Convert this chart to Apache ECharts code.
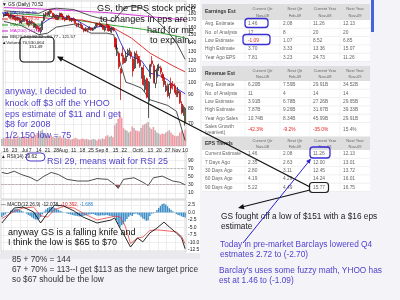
<!DOCTYPE html>
<html>
<head>
<meta charset="utf-8">
<script src="https://cdn.jsdelivr.net/npm/echarts@6/dist/echarts.min.js"></script>
<style>
html, body { margin: 0; padding: 0; background: #f3f3f8; }
#chart { width: 400px; height: 300px; }
</style>
</head>
<body>
<div id="chart"></div>
<script>
// trading days shown on the GS daily chart
const dates = ['6/13','6/16','6/17','6/18','6/19','6/20','6/23','6/24','6/25','6/26','6/27','6/30',
  '7/1','7/2','7/3','7/7','7/8','7/9','7/10','7/11','7/14','7/15','7/16','7/17','7/18',
  '7/21','7/22','7/23','7/24','7/25','7/28','7/29','7/30','7/31','8/1',
  '8/4','8/5','8/6','8/7','8/8','8/11','8/12','8/13','8/14','8/15','8/18','8/19','8/20','8/21','8/22',
  '8/25','8/26','8/27','8/28','8/29','9/2','9/3','9/4','9/5','9/8','9/9','9/10','9/11','9/12',
  '9/15','9/16','9/17','9/18','9/19','9/22','9/23','9/24','9/25','9/26','9/29','9/30',
  '10/1','10/2','10/3','10/6','10/7','10/8','10/9','10/10','10/13','10/14','10/15','10/16','10/17',
  '10/20','10/21','10/22','10/23','10/24','10/27','10/28','10/29','10/30','10/31',
  '11/3','11/4','11/5','11/6','11/7','11/10'];

const labelDates = ['6/16','6/23','7/1','7/7','7/14','7/21','7/28','8/1','8/11','8/18','8/25','9/2','9/8','9/15','9/22','10/1','10/6','10/13','10/20','10/27','11/3','11/10'];
const labelTexts = ['16','23','Jul','7','14','21','28','Aug','11','18','25','Sep','8','15','22','Oct','6','13','20','27','Nov','10'];
const gridDates = ['6/16','6/23','6/30','7/7','7/14','7/21','7/28','8/4','8/11','8/18','8/25','9/2','9/8','9/15','9/22','9/29','10/6','10/13','10/20','10/27','11/3','11/10'];

// [open, close, low, high]
const ohlc = [
  [176,178,174,180],[178,180,176,182],[180,177,176,183],[177,174,172,178],[174,178,172,179],[177,172,171,178],
  [172,174,170,176],[174,170,168,175],[170,173,169,175],[172,166,165,173],[166,168,164,170],[168,175,167,176],
  [173,171,167,174],[171,165,164,172],[166,163,160,167],
  [164,168,162,170],[168,166,163,170],[166,160,159,167],[160,163,158,165],[161,158,155,164],
  [159,155,153,161],[154,157,151.49,160],[158,168,156,169],[170,178,168,180],[178,180,175,182],
  [181,178,176,183],[178,183,176,185],[184,181,179,186],[180,175,174,181],[175,177,173,179],
  [177,171,170,178],[171,176,170,177],[177,180,174,181],[179,175,174,181],[176,172,170,177],
  [172,170,168,174],[171,176,170,177],[176,174,172,178],[173,169,168,175],[169,172,167,173],
  [172,170,168,174],[170,165,164,171],[165,163,160,166],[163,164,161,166],[164,162,160,166],
  [162,158,157,163],[158,155,153,159],[156,158,154,160],[157,156,153,159],[157,160,156,161],
  [159,156,155,160],[156,158,155,159],[158,160,157,161],[161,165,160,166],[164,163,161,166],
  [165,162,160,168],[162,163,160,164],[162,157,156,163],[156,160,154,161],
  [164,163,159,168],[162,155,154,164],[156,157,153,159],[156,159,152,160],[158,156,154,160],
  [145,135,132,147],[133,134,125,138],[128,114,112,130],[112,108,85.88,113],[128,125,116,135],
  [123,118,117,126],[120,125,118,130],[126,128,124,133],[129,131,126,134],[129,125,122,131],
  [122,110,105,124],[113,128,112,130],[127,126,122,131],[125,118,117,127],[120,115,113,125],
  [112,113,103,114],[113,98,97,116],[94,102,92,106],[103,88,87,104],[85,100,73.72,101],
  [105,116,103,117],[120,117,114,125],[115,100,99,117],[99,110,95,111],[108,112,104,116],
  [113,114,110,117],[113,109,107,115],[107,104,101,109],[104,98,96,106],[93,97,92,101],
  [96,89,88,99],[91,98,87,99],[99,95,93,104],[98,97,94,101],[97,92,91,99],
  [92,90,88,94],[91,93,88,96],[92,84,83,93],[83,77,76,85],[78,80,75,82],
  [80,70.52,69,81]
];

// volume, millions of shares
const volume = [13,15,14,16,14,18,13,15,14,19,17,15, 17,18,14, 16,15,18,17,20, 24,23,28,30,24,
  20,19,18,20,17, 15,18,16,19,15, 14,15,13,14,12, 13,14,15,13,12, 13,14,12,13,12, 11,12,13,12,10,
  13,12,14,13, 18,20,17,19,16, 38,42,50,62,52, 33,30,28,25,27, 36,33,29,28,27, 33,38,40,42,44,
  34,31,35,29,25, 23,21,23,22,25, 27,29,25,21,19, 18,19,25,28,23, 30];

// overlays, [day index, value]
const ma10 = [[0,177],[5,176],[10,172],[15,167],[20,161],[25,170],[30,177],[35,174],[40,172],[45,165],[50,158],[55,161],[60,160],[64,155],[67,140],[70,128],[74,124],[79,120],[84,108],[89,106],[94,102],[99,95],[104,90.56]];
const ma50 = [[0,178],[20,174],[28,172],[45,170],[62,160],[73,146],[84,128],[97,115],[104,109.2]];
const ma100 = [[0,181],[25,176],[55,165],[80,157],[104,145.96]];
const ma200 = [[0,189],[20,187],[40,184],[60,181],[80,176],[104,170]];
const bbUpper = [[0,184],[10,182],[20,180],[25,186],[30,188],[40,186],[50,176],[59,170],[63,168],[66,178],[70,190],[74,192],[79,188],[84,178],[89,166],[94,154],[99,140],[104,121.57]];
const bbLower = [[0,168],[10,162],[20,150],[25,152],[30,160],[40,164],[50,152],[59,152],[63,150],[66,122],[70,100],[74,98],[79,95],[84,86],[89,84],[94,82],[99,78],[104,60.77]];

const rsi = [[0,60],[3,57],[7,63],[11,55],[16,48],[20,39],[24,51],[28,60],[32,55],[37,43],[43,39],[49,39],[54,45],[60,43],[64,31],[66,21],[69,43],[75,47],[80,36],[83,28],[86,47],[91,51],[97,39],[101,36],[104,29.62]];

const macd = [[0,-3.5],[7,1.5],[12,1.8],[18,0.2],[22,-3.5],[26,-0.2],[30,2.5],[35,2.2],[41,0.5],[46,-1.5],[54,-3.5],[62,-2.5],[64,-1.8],[67,-5.2],[70,-8.2],[73,-11.5],[77,-8.5],[80,-9.8],[84,-6.8],[88,-5.2],[92,-3.2],[95,-4.8],[99,-6.8],[102,-8.5],[104,-12.078]];
const signal = [[0,-2],[7,0.4],[12,1.5],[18,1.8],[22,-1.1],[26,-1.5],[30,1.0],[35,2.0],[41,1.5],[46,-0.2],[54,-2.5],[62,-1.5],[64,-1.2],[67,-1.5],[70,-4.5],[73,-10.3],[77,-8.5],[80,-8.2],[84,-6.0],[88,-5.8],[92,-6.0],[95,-6.2],[99,-6.5],[102,-8],[104,-10.392]];
const hist = [-1.5,-1.0,-0.6,-0.2,0.2,0.6,0.9,1.1, 1.2,1.1,0.9,0.6,0.3,0.0,-0.4,-0.8,
  -1.2,-1.6,-2.0,-2.3,-2.4,-2.2,-1.5,-0.6, 0.3,1.0,1.5,1.8,1.9,1.8,1.5,1.2,
  0.9,0.6,0.3,0.1,-0.1,-0.3,-0.5,-0.6, -0.8,-1.0,-1.1,-1.2,-1.3,-1.3,-1.2,-1.0,
  -0.9,-0.7,-0.6,-0.5,-0.5,-0.8,-1.0,-1.1, -1.0,-0.9,-1.0,-0.8,-0.9,-1.1,-1.2,-1.4,
  -1.5,-2.6,-3.8,-4.8,-4.2,-3.9,-3.0,-2.2, -1.4,-0.9,-1.2,-0.5,-0.3,-0.6,-0.9,-1.4,
  -2.1,-2.3,-2.8,-2.6,-1.2,-0.4,-0.3,0.2, 0.8,1.5,2.2,2.8,3.0,2.7,2.1,1.4,
  0.9,0.4,-0.1,-0.5,-0.8,-1.0,-1.3,-1.5, -1.686];

const priceTicks = [70,80,90,100,110,120,130,140,150,160,170,180,190];
const rsiTicks = [10,30,50,70,90];
const macdTicks = [2.5,0,-2.5,-5,-7.5,-10,-12.5];

// analyst tables
const colHeads = [['Current Qtr','Nov-08'],['Next Qtr','Feb-09'],['Current Year','Nov-08'],['Next Year','Nov-09']];
const earningsRows = [
  ['Avg. Estimate','1.46','2.08','11.26','12.13'],
  ['No. of Analysts','17','8','20','20'],
  ['Low Estimate','-1.09','1.07','8.52','6.85'],
  ['High Estimate','3.70','3.33','13.36','15.07'],
  ['Year Ago EPS','7.81','3.23','24.73','11.26']
];
const revenueRows = [
  ['Avg. Estimate','6.20B','7.59B','29.91B','34.52B'],
  ['No. of Analysts','11','4','14','14'],
  ['Low Estimate','3.91B','6.78B','27.26B','29.65B'],
  ['High Estimate','7.87B','9.26B','31.67B','39.33B'],
  ['Year Ago Sales','10.74B','8.34B','45.99B','29.91B'],
  ['Sales Growth\n(year/est)','-42.3%','-9.2%','-35.0%','15.4%']
];
const epsRows = [
  ['Current Estimate','1.46','2.08','11.26','12.13'],
  ['7 Days Ago','2.35','2.63','12.00','13.01'],
  ['30 Days Ago','2.80','3.11','12.45','13.72'],
  ['60 Days Ago','4.19','4.29','14.24','16.01'],
  ['90 Days Ago','5.22','4.49','15.77','16.75']
];

const chart = echarts.init(document.getElementById('chart'));
const FONT = '"Liberation Sans", Arial, sans-serif';
const weekSet = new Set(gridDates);
const labelMap = {};
labelDates.forEach((d, i) => { labelMap[d] = labelTexts[i]; });

const gridLine = { color: '#e2e2e2', width: 0.6 };

function xAxisFor(gi, showLabels) {
  return {
    type: 'category', gridIndex: gi, data: dates, boundaryGap: true,
    axisLine: { show: false }, axisTick: { show: false },
    axisLabel: showLabels ? {
      interval: 0, fontSize: 5, color: '#222', margin: 2, fontFamily: FONT,
      formatter: v => labelMap[v] || ''
    } : { show: false },
    splitLine: { show: true, interval: (i, v) => weekSet.has(v), lineStyle: gridLine }
  };
}

function yAxisFor(gi, extra, ticks, fmt) {
  return Object.assign({
    gridIndex: gi, position: 'right',
    axisLine: { show: false },
    axisTick: { show: false, customValues: ticks },
    axisLabel: { customValues: ticks, fontSize: 5, color: '#222', margin: 2, fontFamily: FONT, formatter: fmt },
    splitLine: { show: true, lineStyle: gridLine }
  }, extra);
}

const candleData = ohlc.map((d, i) => i === ohlc.length - 1
  ? { value: d, itemStyle: { color0: '#ffe600', borderColor0: '#222' } }
  : d);
const volData = volume.map((v, i) => ({
  value: v,
  itemStyle: { color: ohlc[i][1] >= ohlc[i][0] ? '#b4b4b4' : '#f29aa4' }
}));

function line(data, color, xi, yi, w) {
  return { type: 'line', data, xAxisIndex: xi, yAxisIndex: yi, symbol: 'none',
    lineStyle: { color, width: w || 0.8 }, silent: true, z: 3 };
}

// ---- annotation helpers
function txt(x, y, text, size, color, extra, weight) {
  return { type: 'text', z: 60, style: Object.assign({
    x, y, text, font: (weight ? weight + ' ' : '') + size + 'px ' + FONT, fill: color,
    textAlign: 'left', textVerticalAlign: 'middle' }, extra || {}) };
}
function rrect(x, y, w, h, r, color, lw) {
  return { type: 'rect', z: 60, shape: { x, y, width: w, height: h, r },
    style: { fill: 'none', stroke: color, lineWidth: lw || 1.2 } };
}
function seg(x1, y1, x2, y2, color, lw) {
  return { type: 'line', z: 60, shape: { x1, y1, x2, y2 },
    style: { stroke: color, lineWidth: lw || 1.2 } };
}
function arrowHead(tx, ty, fx, fy, size, color) {
  const a = Math.atan2(ty - fy, tx - fx);
  const bx = tx - size * Math.cos(a), by = ty - size * Math.sin(a);
  const hw = size * 0.45;
  return { type: 'polygon', z: 61, shape: { points: [[tx, ty],
    [bx + hw * Math.sin(a), by - hw * Math.cos(a)], [bx - hw * Math.sin(a), by + hw * Math.cos(a)]] },
    style: { fill: color } };
}

// tables
const colX = [202, 245, 280, 310, 340, 370];
function table(top, headH, title, rows, rowHs) {
  const els = [];
  const total = headH + rowHs.reduce((a, b) => a + b, 0);
  els.push({ type: 'rect', z: 20, shape: { x: colX[0], y: top, width: colX[5] - colX[0], height: total }, style: { fill: '#ffffff' } });
  els.push({ type: 'rect', z: 21, shape: { x: colX[0], y: top, width: colX[5] - colX[0], height: headH }, style: { fill: '#dedede' } });
  els.push(txt(205, top + headH / 2, title, 5, '#333', null, 'bold'));
  colHeads.forEach((h, c) => {
    const cx = (colX[c + 1] + colX[c + 2]) / 2;
    els.push(txt(cx, top + headH / 2 - 3, h[0], 4, '#666', { textAlign: 'center' }));
    els.push(txt(cx, top + headH / 2 + 3.5, h[1], 4, '#666', { textAlign: 'center' }));
  });
  let y = top + headH;
  rows.forEach((r, ri) => {
    const h = rowHs[ri];
    els.push(seg(colX[0], y + h, colX[5], y + h, '#e6e6e6', 0.6));
    r.forEach((cell, c) => {
      const red = c > 0 && cell.charAt(0) === '-' && title !== 'EPS Trends';
      els.push(txt(colX[c] + 3, y + h / 2, cell, 4.8, red ? '#e02020' : '#666', { lineHeight: 6 }));
    });
    y += h;
  });
  for (let c = 1; c < 5; c++) els.push(seg(colX[c], top + headH, colX[c], top + total, '#ececec', 0.6));
  return els;
}

const purple = '#5142cc';
const graphics = [
  // backgrounds
  { type: 'rect', z: -10, shape: { x: 0, y: 0, width: 200, height: 253 }, style: { fill: '#ffffff' } },
  { type: 'rect', z: -10, shape: { x: 0, y: 253, width: 200, height: 6 }, style: { fill: '#e9e9ee' } },
  { type: 'rect', z: -10, shape: { x: 371, y: 0, width: 3, height: 32 }, style: { fill: '#4466dd' } },
  ...table(4, 16, 'Earnings Est', earningsRows, [8.3, 8.3, 8.3, 8.3, 8.3]),
  ...table(66, 15, 'Revenue Est', revenueRows, [8.3, 8.3, 8.3, 8.3, 8.3, 14]),
  ...table(137, 13, 'EPS Trends', epsRows, [8.3, 8.3, 8.3, 8.3, 8.3]),

  // legend block of the price panel
  txt(2, 5, '\u25BC GS (Daily) 70.52', 4.8, '#111'),
  seg(2, 13, 8, 13, '#2828d8', 1), txt(10, 13, 'MA(10) 90.56', 4.4, '#2828d8'),
  seg(2, 19, 8, 19, '#e02020', 1), txt(10, 19, 'MA(50) 109.20', 4.4, '#e02020'),
  seg(2, 25, 8, 25, '#1a9a1a', 1), txt(10, 25, 'MA(100) 145.96', 4.4, '#1a9a1a'),
  seg(2, 31, 8, 31, '#d020d0', 1), txt(10, 31, 'MA(200) 161.02', 4.4, '#d020d0'),
  seg(2, 37, 8, 37, '#222', 1), txt(10, 37, 'BB(20,2.0) 92.32 - 60.77 - 121.57', 4.4, '#222'),
  txt(2, 43, '\u25B2Volume 70,530,064', 4.4, '#222'),

  // panel headers
  txt(1, 156.5, '\u25B2 RSI(14) 29.62', 4.8, '#222'),
  { type: 'text', z: 60, style: { x: 1, y: 204.5, textVerticalAlign: 'middle', font: '4.8px ' + FONT,
    text: '{k|\u2014 MACD(12,26,9) -12.078,} {r|-10.392,} {b|-1.686}',
    rich: { k: { fill: '#222', font: '4.8px ' + FONT }, r: { fill: '#e02020', font: '4.8px ' + FONT }, b: { fill: '#2a7fc0', font: '4.8px ' + FONT } } } },

  // handwritten style notes
  txt(97, 8, 'GS, the EPS stock price', 9.2, '#111'),
  txt(100, 19, 'to changes in eps are', 9.2, '#111'),
  txt(147, 30, 'hard for me', 9.2, '#111'),
  txt(150, 40, 'to explain.', 9.2, '#111'),

  txt(5, 92, 'anyway, I decided to', 9, purple),
  txt(5, 103.5, 'knock off $3 off the YHOO', 9, purple),
  txt(5, 114.5, 'eps estimate of $11 and I get', 9, purple),
  txt(5, 125, '$8 for 2008', 9, purple),
  txt(5, 135.5, '1/2 150 low = 75', 9, purple),
  txt(47, 162, 'RSI 29, means wait for RSI 25', 9, purple),

  txt(8, 233, 'anyway GS is a falling knife and', 9, '#111'),
  txt(8, 243, 'I think the low is $65 to $70', 9, '#111'),

  txt(12, 260, '85 + 70% = 144', 8.3, '#333'),
  txt(12, 270, '67 + 70% = 113--I get $113 as the new target price', 8.3, '#333'),
  txt(12, 280, 'so $67 should be the low', 8.3, '#333'),

  txt(221, 217, 'GS fought off a low of $151 with a $16 eps', 8.3, '#222'),
  txt(221, 226.5, 'estimate', 8.3, '#222'),
  txt(220, 245, 'Today in pre-market Barclays lowered Q4', 8.3, purple),
  txt(220, 254.5, 'estmates 2.72 to (-2.70)', 8.3, purple),
  txt(219, 271, "Barclay's uses some fuzzy math, YHOO has", 8.3, purple),
  txt(219, 280.5, 'est at 1.46 to (-1.09)', 8.3, purple),

  // boxes and arrows
  rrect(20, 37, 34, 25, 4, '#111', 1.2),
  txt(29, 47, '151.49', 4.4, '#111'),
  rrect(26, 153, 19, 8, 4, purple, 1),
  rrect(245, 18.5, 23, 9, 3, '#3a2fd6', 1.3),
  rrect(243, 34.5, 27, 10, 3, '#3a2fd6', 1.3),
  rrect(310, 147, 20, 11, 3, '#3a2fd6', 1.3),
  rrect(309.5, 182.5, 19, 10, 3, '#222', 1.2),

  seg(58, 57, 310, 187, '#111', 1.3),
  arrowHead(57, 56.5, 310, 187, 6, '#111'),
  seg(310, 190, 240, 207.5, '#111', 1.2),
  arrowHead(238, 208, 310, 190, 6, '#111'),
  seg(243, 243, 310, 160, '#2a22d0', 1),
  arrowHead(311, 158.5, 243, 243, 5, '#2a22d0')
];

// shade the RSI line where it dips under 30
function rsiDip(params, api) {
  if (params.dataIndex !== 0) return null;
  const cs = params.coordSys;
  const pts = rsi.map(p => api.coord(p));
  const y30 = api.coord([0, 30])[1];
  pts.push([pts[pts.length - 1][0], y30], [pts[0][0], y30]);
  return {
    type: 'polygon', shape: { points: pts },
    style: { fill: '#b85a5a' },
    clipPath: { type: 'rect', shape: { x: cs.x, y: y30, width: cs.width, height: cs.y + cs.height - y30 } }
  };
}

const option = {
  animation: false,
  backgroundColor: 'transparent',
  textStyle: { fontFamily: FONT },
  grid: [
    { left: 1, top: 1, width: 185, height: 145, show: true, borderColor: '#b8b8b8', borderWidth: 0.6, backgroundColor: '#fff' },
    { left: 1, top: 108, width: 185, height: 38 },
    { left: 1, top: 152, width: 185, height: 47, show: true, borderColor: '#b8b8b8', borderWidth: 0.6, backgroundColor: '#fff' },
    { left: 1, top: 200, width: 185, height: 52, show: true, borderColor: '#b8b8b8', borderWidth: 0.6, backgroundColor: '#fff' }
  ],
  xAxis: [xAxisFor(0, true), Object.assign(xAxisFor(1, false), { splitLine: { show: false } }), xAxisFor(2, false), xAxisFor(3, false)],
  yAxis: [
    yAxisFor(0, { type: 'log', logBase: 10, min: 58, max: 200 }, priceTicks),
    { type: 'value', gridIndex: 1, min: 0, max: 70, show: false, splitLine: { show: false } },
    yAxisFor(2, { type: 'value', min: -5, max: 110 }, rsiTicks),
    yAxisFor(3, { type: 'value', min: -13.17, max: 4.17 }, macdTicks, v => v.toFixed(1))
  ],
  series: [
    { type: 'bar', data: volData, xAxisIndex: 1, yAxisIndex: 1, barCategoryGap: '12%', silent: true, z: 1 },
    line(ma200, '#d020d0', 0, 0, 0.9),
    line(ma100, '#1a9a1a', 0, 0, 0.9),
    line(ma50, '#e02020', 0, 0, 0.9),
    line(bbUpper, '#222', 0, 0, 0.8),
    line(bbLower, '#222', 0, 0, 0.8),
    line(ma10, '#2828d8', 0, 0, 0.9),
    { type: 'candlestick', data: candleData, xAxisIndex: 0, yAxisIndex: 0, barWidth: 1.6, silent: true, z: 4,
      itemStyle: { color: '#ffffff', borderColor: '#111', color0: '#e01010', borderColor0: '#c00000', borderWidth: 0.7 } },
    { type: 'bar', data: hist, xAxisIndex: 3, yAxisIndex: 3, barCategoryGap: '20%', silent: true,
      itemStyle: { color: '#3b8dc8' } },
    { type: 'custom', data: rsi, xAxisIndex: 2, yAxisIndex: 2, renderItem: rsiDip, silent: true, z: 2 },
    Object.assign(line(rsi, '#222', 2, 2, 0.8), {
      markLine: { silent: true, symbol: 'none', label: { show: false },
        lineStyle: { color: '#999', type: 'dashed', width: 0.6 },
        data: [{ yAxis: 70 }, { yAxis: 30 }] } }),
    line(signal, '#e84040', 3, 3, 0.8),
    line(macd, '#111', 3, 3, 0.9)
  ],
  graphic: { elements: graphics }
};

chart.setOption(option);
</script>
</body>
</html>
